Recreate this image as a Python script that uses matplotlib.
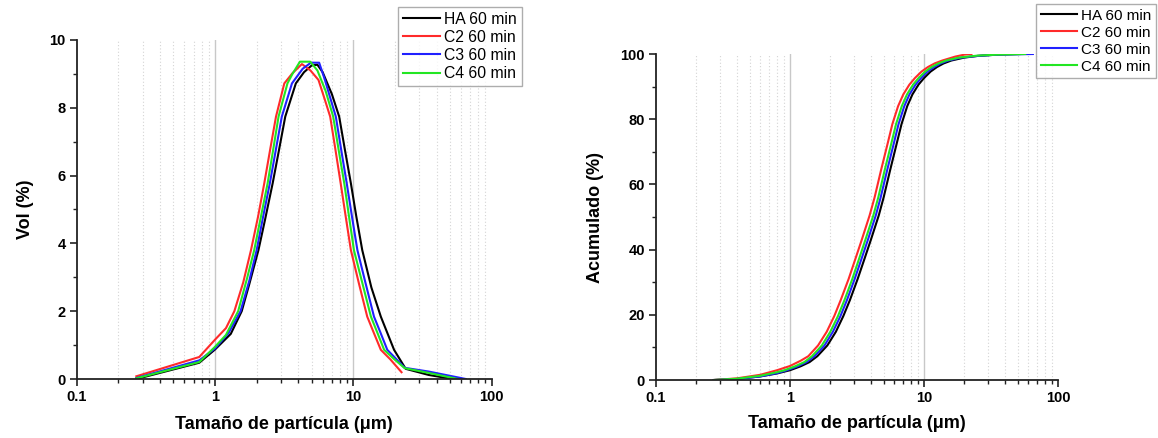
import matplotlib
matplotlib.use('Agg')
import matplotlib.pyplot as plt
from matplotlib.ticker import FixedLocator, NullFormatter, FixedFormatter

plt.rcParams['font.family'] = ['Liberation Sans', 'DejaVu Sans']

# ---- volume distribution (left) ----
ha_x = [0.27, 0.77, 1.0, 1.3, 1.56, 1.77, 2.06, 2.3, 2.61, 2.9, 3.22, 3.84, 4.4, 5.0, 5.5, 6.0,
        7.0, 7.9, 8.7, 9.6, 10.5, 11.6, 13.5, 15.8, 17.6, 19.7, 23.9, 35, 52]
ha_vol = [0.0, 0.48, 0.87, 1.33, 2.0, 2.8, 3.8, 4.7, 5.77, 6.75, 7.74, 8.72, 9.05, 9.25, 9.27, 9.05,
          8.4, 7.74, 6.75, 5.77, 4.8, 3.8, 2.7, 1.84, 1.36, 0.86, 0.3, 0.12, 0.0]

c2_x = [0.27, 0.77, 1.0, 1.2, 1.38, 1.6, 1.82, 2.05, 2.27, 2.5, 2.76, 3.17, 3.63, 4.25, 4.9, 5.6,
        6.2, 6.8, 7.4, 8.1, 8.8, 9.6, 11.0, 12.6, 14.0, 15.8, 18.5, 22.3]
c2_vol = [0.08, 0.65, 1.16, 1.5, 2.0, 2.85, 3.8, 4.8, 5.77, 6.75, 7.74, 8.72, 9.02, 9.29, 9.1, 8.82,
          8.26, 7.74, 6.8, 5.77, 4.8, 3.8, 2.8, 1.84, 1.38, 0.86, 0.58, 0.2]

c3_x = [0.27, 0.77, 1.0, 1.25, 1.53, 1.77, 2.0, 2.23, 2.49, 2.75, 3.04, 3.6, 4.3, 4.93, 5.66, 6.2,
        6.8, 7.47, 8.2, 8.96, 9.8, 10.7, 12.3, 14.1, 15.7, 17.6, 20.3, 23.5, 35, 65]
c3_vol = [0.03, 0.55, 0.9, 1.35, 2.0, 2.9, 3.8, 4.8, 5.77, 6.75, 7.74, 8.72, 9.15, 9.33, 9.33, 8.85,
          8.3, 7.74, 6.72, 5.77, 4.76, 3.8, 2.8, 1.84, 1.37, 0.86, 0.6, 0.33, 0.22, 0.0]

c4_x = [0.27, 0.77, 1.0, 1.2, 1.47, 1.7, 1.92, 2.15, 2.4, 2.63, 2.88, 3.34, 3.63, 4.11, 4.88, 5.5,
        6.3, 7.15, 7.85, 8.6, 9.3, 10.1, 11.6, 13.4, 14.9, 16.7, 19.8, 23.5, 35, 57]
c4_vol = [0.02, 0.5, 0.95, 1.3, 2.0, 2.95, 3.8, 4.8, 5.77, 6.75, 7.74, 8.72, 9.0, 9.36, 9.36, 9.1,
          8.5, 7.74, 6.73, 5.77, 4.8, 3.8, 2.84, 1.84, 1.37, 0.86, 0.58, 0.32, 0.18, 0.0]

# ---- cumulative (right) ----
ha_cx = [0.27, 0.4, 0.6, 0.8, 1.0, 1.2, 1.4, 1.6, 1.9, 2.2, 2.5, 2.8, 3.2, 3.6, 4.0, 4.6,
         5.0, 5.6, 6.3, 6.8, 7.5, 8.2, 9.1, 10, 11.2, 12.5, 14, 16, 20, 25, 35, 52]
ha_cum = [0, 0.3, 1.1, 2.0, 3.0, 4.2, 5.5, 7.3, 10.6, 14.8, 19.6, 24.5, 31, 37.2, 42.8, 50.5,
          56, 64.5, 73, 78.5, 84, 87.6, 90.6, 92.6, 94.6, 96, 97.1, 98, 98.9, 99.4, 99.8, 100]

c2_cx = [0.27, 0.4, 0.6, 0.8, 1.0, 1.2, 1.37, 1.62, 1.88, 2.14, 2.39, 2.74, 3.08, 3.42, 3.93,
         4.28, 4.79, 5.39, 5.81, 6.41, 7.01, 7.78, 8.55, 9.58, 10.7, 12.0, 13.7, 17.1, 20, 22.6]
c2_cum = [0, 0.5, 1.6, 3.0, 4.3, 5.9, 7.3, 10.6, 14.8, 19.6, 24.5, 31, 37.2, 42.8, 50.5,
          56, 64.5, 73, 78.5, 84, 87.6, 90.6, 92.6, 94.6, 96, 97.1, 98, 99.2, 99.8, 100]

c3_cx = [0.27, 0.4, 0.6, 0.8, 0.95, 1.14, 1.33, 1.52, 1.81, 2.09, 2.38, 2.66, 3.04, 3.42, 3.8,
         4.37, 4.75, 5.32, 5.99, 6.46, 7.13, 7.79, 8.65, 9.5, 10.6, 11.9, 13.3, 15.2, 19, 25, 35, 65]
c3_cum = [0, 0.3, 1.1, 2.1, 3.0, 4.2, 5.5, 7.3, 10.6, 14.8, 19.6, 24.5, 31, 37.2, 42.8,
          50.5, 56, 64.5, 73, 78.5, 84, 87.6, 90.6, 92.6, 94.6, 96, 97.1, 98, 98.9, 99.4, 99.8, 100]

c4_cx = [0.27, 0.4, 0.6, 0.8, 0.91, 1.09, 1.28, 1.46, 1.73, 2.0, 2.28, 2.55, 2.92, 3.28, 3.64,
         4.19, 4.56, 5.1, 5.74, 6.19, 6.83, 7.47, 8.29, 9.11, 10.2, 11.4, 12.8, 14.6, 18.2, 25, 35, 57]
c4_cum = [0, 0.4, 1.3, 2.4, 3.0, 4.2, 5.5, 7.3, 10.6, 14.8, 19.6, 24.5, 31, 37.2, 42.8,
          50.5, 56, 64.5, 73, 78.5, 84, 87.6, 90.6, 92.6, 94.6, 96, 97.1, 98, 98.9, 99.5, 99.8, 100]

labels = ['HA 60 min', 'C2 60 min', 'C3 60 min', 'C4 60 min']
colors = ['#000000', '#ff2a2a', '#2020ff', '#22e622']
xtick_labels = ['0.1', '1', '10', '100']


def style_axis(ax, ymax, ymajor, yminor, ylabel, ylab_x):
    ax.set_xscale('log')
    ax.set_xlim(0.1, 100)
    ax.set_ylim(0, ymax)
    minors = [m * d for d in (0.1, 1, 10) for m in range(2, 10)]
    ax.xaxis.set_major_locator(FixedLocator([0.1, 1, 10, 100]))
    ax.xaxis.set_major_formatter(FixedFormatter(xtick_labels))
    ax.xaxis.set_minor_locator(FixedLocator(minors))
    ax.xaxis.set_minor_formatter(NullFormatter())
    ax.yaxis.set_major_locator(FixedLocator(ymajor))
    ax.yaxis.set_minor_locator(FixedLocator(yminor))
    for d in (1, 10):
        ax.axvline(d, color='#c8c8c8', lw=1.0, zorder=0)
    for m in minors:
        ax.axvline(m, color='#d4d4d4', lw=0.8, ls=(0, (1, 2)), zorder=0)
    for s in ('top', 'right'):
        ax.spines[s].set_visible(False)
    for s in ('left', 'bottom'):
        ax.spines[s].set_linewidth(1.3)
        ax.spines[s].set_color('#222222')
    ax.tick_params(which='major', direction='out', length=5, width=1.2, color='#222222',
                   labelsize=10.5, pad=3)
    ax.tick_params(which='minor', direction='out', length=3, width=1.0, color='#222222')
    for t in ax.get_xticklabels() + ax.get_yticklabels():
        t.set_fontweight('bold')
    ax.set_xlabel('Tamaño de partícula (μm)', fontsize=13, fontweight='bold')
    ax.set_ylabel(ylabel, fontsize=13, fontweight='bold')
    ax.xaxis.set_label_coords(0.5, -0.108)
    ax.yaxis.set_label_coords(ylab_x, 0.5)


fig = plt.figure(figsize=(11.58, 4.38), dpi=100)
ax1 = fig.add_axes([0.0662, 0.1347, 0.3584, 0.774])
ax2 = fig.add_axes([0.5665, 0.1324, 0.3471, 0.7443])

for xs, ys, lab, col in zip([ha_x, c2_x, c3_x, c4_x], [ha_vol, c2_vol, c3_vol, c4_vol], labels, colors):
    ax1.plot(xs, ys, color=col, lw=1.5, label=lab)
for xs, ys, lab, col in zip([ha_cx, c2_cx, c3_cx, c4_cx], [ha_cum, c2_cum, c3_cum, c4_cum], labels, colors):
    ax2.plot(xs, ys, color=col, lw=1.5, label=lab)

style_axis(ax1, 10, [0, 2, 4, 6, 8, 10], [1, 3, 5, 7, 9], 'Vol (%)', -0.102)
style_axis(ax2, 100, [0, 20, 40, 60, 80, 100], [10, 30, 50, 70, 90], 'Acumulado (%)', -0.13)

for ax, anchor, fs in ((ax1, (398 / 1158, 1 - 7 / 438), 11.3), (ax2, (1036 / 1158, 1 - 4 / 438), 11)):
    ax.legend(loc='upper left', bbox_to_anchor=anchor, bbox_transform=fig.transFigure,
              fontsize=fs, frameon=True, fancybox=False, edgecolor='#999999',
              handlelength=2.4, handletextpad=0.25, labelspacing=0.2, borderpad=0.3,
              borderaxespad=0)

fig.savefig('out.png', dpi=100)
